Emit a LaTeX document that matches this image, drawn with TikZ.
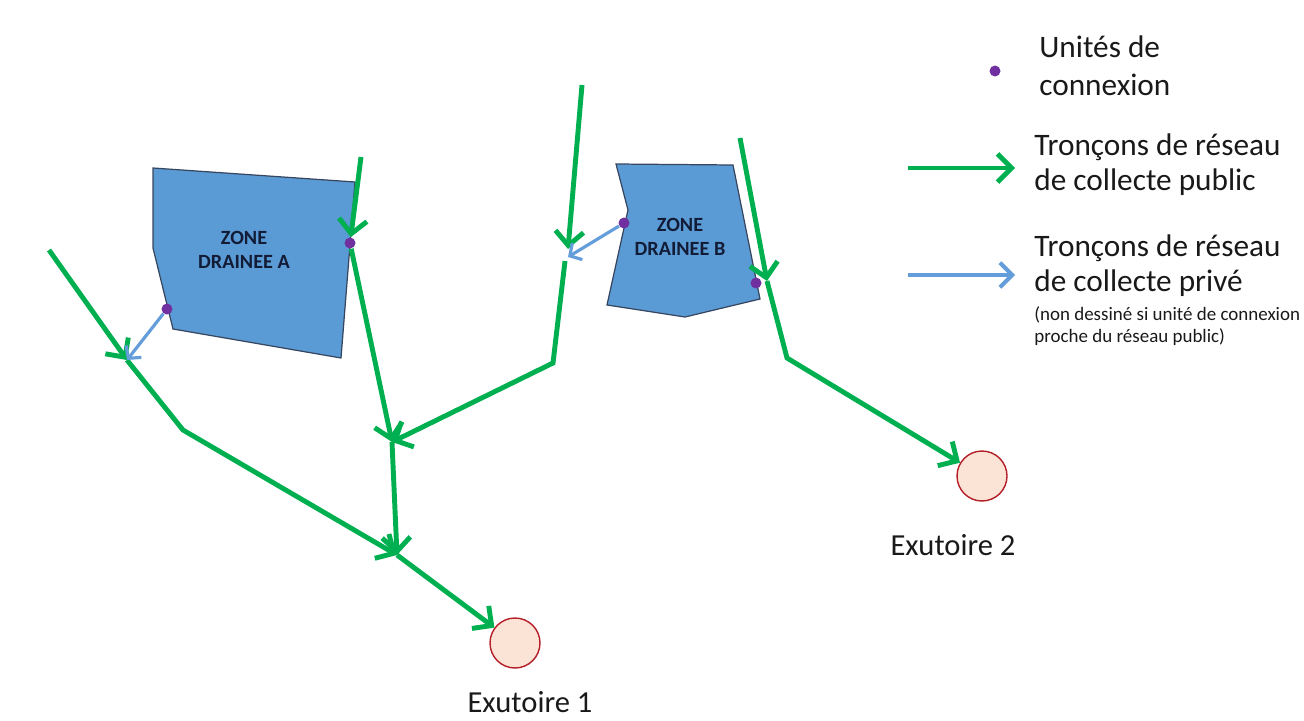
\documentclass[tikz,border=0pt]{standalone}
\usepackage{fontspec}
\setmainfont{Carlito}
\usetikzlibrary{arrows.meta}
\definecolor{pubgreen}{RGB}{0,176,80}
\definecolor{privblue}{RGB}{100,158,218}
\definecolor{zonefill}{RGB}{91,155,213}
\definecolor{zoneline}{RGB}{55,70,95}
\definecolor{zonetxt}{RGB}{18,28,55}
\definecolor{unitpurple}{RGB}{112,48,160}
\definecolor{outfill}{RGB}{251,228,213}
\definecolor{outline}{RGB}{180,30,40}
\begin{document}
\begin{tikzpicture}[
x=0.02cm, y=-0.02cm,
>={Straight Barb[length=8pt,width=16pt]},
line/.style={draw, color=pubgreen, line width=2.8pt, ->},
priv/.style={draw, color=privblue, line width=1.8pt, -{Straight Barb[length=5pt,width=11pt]}},
legpriv/.style={draw, color=privblue, line width=2.3pt, -{Straight Barb[length=7pt,width=14pt]}},
zone/.style={draw=zoneline, fill=zonefill, line width=0.7pt},
zonetext/.style={align=center, inner sep=0pt, text=zonetxt, font=\fontsize{11.5}{14}\selectfont\bfseries},
unit/.style={circle, fill=unitpurple, inner sep=0pt, minimum size=0.22cm},
outlet/.style={circle, draw=outline, fill=outfill, line width=0.8pt, inner sep=0pt, minimum size=1cm},
lbl/.style={inner sep=0pt, text=black!90, font=\fontsize{17.4}{20}\selectfont},
legtext/.style={anchor=west, align=left, inner sep=0pt, text=black!90, font=\fontsize{17.8}{20}\selectfont},
smalltext/.style={anchor=west, align=left, inner sep=0pt, text=black!90, font=\fontsize{10.8}{12.5}\selectfont}
]
\useasboundingbox (0,0) rectangle (1304,720);

%zones
\path[zone] (153,168) -- (355,182) -- (341,358) -- (173,329) -- (153,248) -- cycle;
\node[zonetext] (zA) at (244,250) {ZONE\\DRAINEE A};
\path[zone] (616,164) -- (733,165) -- (760,299) -- (685,317) -- (607,305) -- (628,210) -- cycle;
\node[zonetext] (zB) at (680,237) {ZONE\\DRAINEE B};

%outlets
\node[outlet] (ex1) at (515,643) {};
\node[lbl] (ex1l) at (530,702) {Exutoire 1};
\node[outlet] (ex2) at (982,476) {};
\node[lbl] (ex2l) at (953,545) {Exutoire 2};

%network points
\coordinate (s1) at (49,250);
\coordinate (s2) at (361,157);
\coordinate (s3) at (582,85);
\coordinate (s4) at (740,138);
\coordinate (j1) at (127,360);
\coordinate (b1) at (183,430);
\coordinate (j2) at (392,442);
\coordinate (j3) at (397,555);
\coordinate (jB1) at (568,249);
\coordinate (jB2) at (568,257);
\coordinate (jB3) at (565,261);
\coordinate (b3) at (553,363);
\coordinate (jC) at (767,281);
\coordinate (b4) at (787,358);

%connexion units
\node[unit] (uA1) at (350,243) {};
\node[unit] (uA2) at (167,309) {};
\node[unit] (uB1) at (624,223) {};
\node[unit] (uB2) at (756,283) {};

%public network
\path[line] (s1) -- (j1);
	\path[line] (j1) -- (b1) -- (j3);
\path[line] (s2) -- (uA1);
	\path[line] (uA1) -- (j2);
\path[line] (s3) -- (jB1);
	\path[line] (jB3) -- (b3) -- (j2);
\path[line] (j2) -- (j3);
	\path[line] (j3) -- (ex1);
\path[line] (s4) -- (jC);
	\path[line] (jC) -- (b4) -- (ex2);

%private network
\path[priv] (uA2) -- (j1);
\path[priv] (uB1) -- (jB2);

%legend
\node[unit] (legU) at (995,71) {};
\node[legtext] (legUt) at (1039,66) {Unités de\\[1.5pt]connexion};
\coordinate (legG1) at (908,168);
\coordinate (legG2) at (1015,168);
\path[line] (legG1) -- (legG2);
\node[legtext] (legGt) at (1034,165) {Tronçons de réseau\\de collecte public};
\coordinate (legP1) at (908,275);
\coordinate (legP2) at (1015,275);
\path[legpriv] (legP1) -- (legP2);
\node[legtext] (legPt) at (1034,266) {Tronçons de réseau\\de collecte privé};
\node[smalltext] (legPn) at (1034,326) {(non dessiné si unité de connexion\\proche du réseau public)};

\end{tikzpicture}
\end{document}
